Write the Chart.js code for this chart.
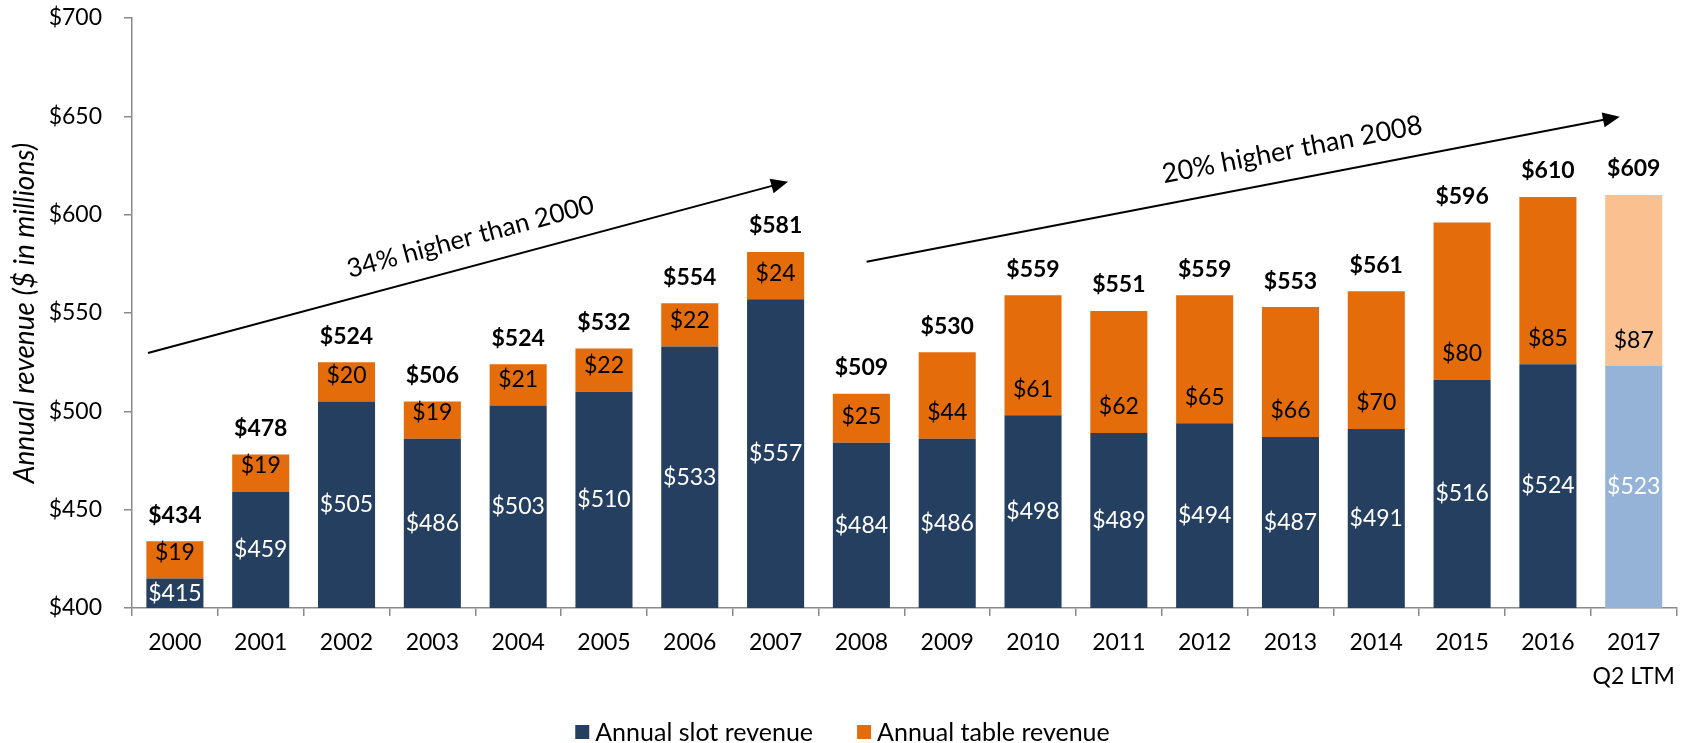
<!DOCTYPE html>
<html><head><meta charset="utf-8">
<script src="https://cdn.jsdelivr.net/npm/chart.js@4.4.0/dist/chart.umd.min.js"></script>
<style>html,body{margin:0;padding:0;background:#fff;}#wrap{width:1685px;height:743px;}</style>
</head><body><div id="wrap"><canvas id="c" width="1685" height="743"></canvas></div>
<script>
const categories = ["2000","2001","2002","2003","2004","2005","2006","2007","2008","2009","2010","2011","2012","2013","2014","2015","2016",["2017","Q2 LTM"]];
const slotRevenue = [415,459,505,486,503,510,533,557,484,486,498,489,494,487,491,516,524,523];
const tableRevenue = [19,19,20,19,21,22,22,24,25,44,61,62,65,66,70,80,85,87];
const totalRevenue = [434,478,524,506,524,532,554,581,509,530,559,551,559,553,561,596,610,609];
const seriesNames = ["Annual slot revenue","Annual table revenue"];
const yMin = 400, yMax = 700, yStep = 50;

const FONT = "Lato";
const SLOT = "#243F60", TABLE = "#E46C0A", SLOT_LIGHT = "#95B3D7", TABLE_LIGHT = "#FAC090";
const last = categories.length - 1;

// annotation arrows in data space (category index, value)
const arrows = [
  {from:[-0.314, 529.7], to:[7.145, 616.8], text:"34% higher than 2000", at:[3.445, 588.6], size:26},
  {from:[8.06, 576.1], to:[16.838, 649.8], text:"20% higher than 2008", at:[13.02, 633.0], size:27}
];

const annotPlugin = {
  id:'annot',
  afterDatasetsDraw(chart){
    const ctx = chart.ctx, area = chart.chartArea;
    const xs = chart.scales.x, ys = chart.scales.y;
    const m0 = chart.getDatasetMeta(0), m1 = chart.getDatasetMeta(1);
    ctx.save();
    ctx.textAlign = 'center'; ctx.textBaseline = 'middle';
    m0.data.forEach((bar,i)=>{
      const base = Math.min(bar.base, area.bottom);
      ctx.font = `23px ${FONT}`;
      ctx.fillStyle = '#fff';
      ctx.fillText('$'+slotRevenue[i], bar.x, (bar.y+base)/2);
    });
    m1.data.forEach((bar,i)=>{
      ctx.font = `23px ${FONT}`;
      ctx.fillStyle = '#000';
      ctx.fillText('$'+tableRevenue[i], bar.x, bar.base-26);
      ctx.font = `bold 23px ${FONT}`;
      ctx.fillText('$'+totalRevenue[i], bar.x, bar.y-26);
    });
    arrows.forEach(a=>{
      const x1 = xs.getPixelForValue(a.from[0]), y1 = ys.getPixelForValue(a.from[1]);
      const x2 = xs.getPixelForValue(a.to[0]), y2 = ys.getPixelForValue(a.to[1]);
      const ang = Math.atan2(y2-y1, x2-x1);
      const hl = 17, hw = 7.5;
      ctx.strokeStyle = '#000'; ctx.fillStyle = '#000'; ctx.lineWidth = 2;
      ctx.beginPath(); ctx.moveTo(x1,y1);
      ctx.lineTo(x2 - hl*0.8*Math.cos(ang), y2 - hl*0.8*Math.sin(ang)); ctx.stroke();
      ctx.beginPath();
      ctx.moveTo(x2,y2);
      ctx.lineTo(x2 - hl*Math.cos(ang) + hw*Math.sin(ang), y2 - hl*Math.sin(ang) - hw*Math.cos(ang));
      ctx.lineTo(x2 - hl*Math.cos(ang) - hw*Math.sin(ang), y2 - hl*Math.sin(ang) + hw*Math.cos(ang));
      ctx.closePath(); ctx.fill();
      const tx = xs.getPixelForValue(a.at[0]), ty = ys.getPixelForValue(a.at[1]);
      ctx.save(); ctx.translate(tx,ty); ctx.rotate(ang);
      ctx.font = `${a.size}px ${FONT}`; ctx.fillText(a.text,0,0);
      ctx.restore();
    });
    ctx.restore();
  },
  afterDraw(chart){
    const ctx = chart.ctx;
    ctx.save();
    ctx.font = `25px ${FONT}`; ctx.textBaseline='middle'; ctx.textAlign='left';
    const box = 14, gap = 6, itemGap = 44, cy = 732;
    const w = seriesNames.map(s=>ctx.measureText(s).width);
    const total = w.reduce((s,v)=>s+box+gap+v,0) + itemGap*(w.length-1);
    let x = chart.width/2 - total/2;
    const cols = [SLOT, TABLE];
    seriesNames.forEach((s,i)=>{
      ctx.fillStyle = cols[i]; ctx.fillRect(x, cy-box/2, box, box);
      ctx.fillStyle = '#000'; ctx.fillText(s, x+box+gap, cy+1);
      x += box+gap+w[i]+itemGap;
    });
    ctx.restore();
  }
};

new Chart(document.getElementById('c'), {
  type:'bar',
  data:{
    labels: categories,
    datasets:[
      {label:seriesNames[0], data:slotRevenue, backgroundColor: slotRevenue.map((v,i)=> i===last?SLOT_LIGHT:SLOT), barPercentage:0.665, categoryPercentage:1},
      {label:seriesNames[1], data:tableRevenue, backgroundColor: tableRevenue.map((v,i)=> i===last?TABLE_LIGHT:TABLE), barPercentage:0.665, categoryPercentage:1}
    ]
  },
  options:{
    responsive:false, animation:false,
    layout:{padding:{top:18,right:6,left:0,bottom:0}},
    plugins:{legend:{display:false}, tooltip:{enabled:false}},
    scales:{
      x:{
        stacked:true,
        grid:{display:true, offset:true, drawOnChartArea:false, drawTicks:true, tickLength:8, color:'#8a8a8a', lineWidth:1.5},
        border:{display:true, color:'#8a8a8a', width:1.5},
        ticks:{color:'#000', font:{family:FONT, size:23, lineHeight:1.48}, padding:10, maxRotation:0, autoSkip:false},
        afterFit(s){ s.height = 135; }
      },
      y:{
        stacked:true, min:yMin, max:yMax,
        grid:{drawOnChartArea:false, drawTicks:true, tickLength:8, color:'#8a8a8a', lineWidth:1.5},
        border:{display:true, color:'#8a8a8a', width:1.5},
        ticks:{stepSize:yStep, callback:v=>'$'+v, color:'#000', font:{family:FONT, size:23}, padding:22},
        title:{display:true, text:'Annual revenue ($ in millions)', color:'#000', font:{family:FONT, size:28, style:'italic'}, padding:{top:8,bottom:0}},
        afterFit(s){ s.width = 132; s.paddingTop = 0; s.paddingBottom = 0; }
      }
    }
  },
  plugins:[annotPlugin]
});
</script></body></html>
